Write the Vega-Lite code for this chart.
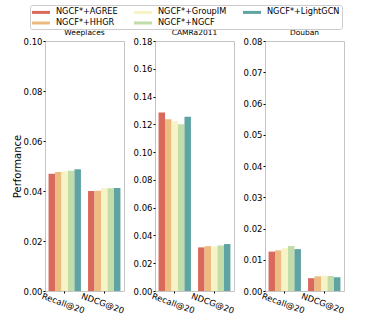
{
  "$schema": "https://vega.github.io/schema/vega-lite/v6.json",
  "padding": {"left": 11, "top": 4, "right": 5, "bottom": 5},
  "datasets": {
    "d": [
      {"dataset": "Weeplaces", "metric": "Recall@20", "method": "NGCF*+AGREE", "value": 0.0469},
      {"dataset": "Weeplaces", "metric": "Recall@20", "method": "NGCF*+HHGR", "value": 0.0476},
      {"dataset": "Weeplaces", "metric": "Recall@20", "method": "NGCF*+GroupIM", "value": 0.0479},
      {"dataset": "Weeplaces", "metric": "Recall@20", "method": "NGCF*+NGCF", "value": 0.0481},
      {"dataset": "Weeplaces", "metric": "Recall@20", "method": "NGCF*+LightGCN", "value": 0.0487},
      {"dataset": "Weeplaces", "metric": "NDCG@20", "method": "NGCF*+AGREE", "value": 0.0400},
      {"dataset": "Weeplaces", "metric": "NDCG@20", "method": "NGCF*+HHGR", "value": 0.0401},
      {"dataset": "Weeplaces", "metric": "NDCG@20", "method": "NGCF*+GroupIM", "value": 0.0411},
      {"dataset": "Weeplaces", "metric": "NDCG@20", "method": "NGCF*+NGCF", "value": 0.0411},
      {"dataset": "Weeplaces", "metric": "NDCG@20", "method": "NGCF*+LightGCN", "value": 0.0412},
      {"dataset": "CAMRa2011", "metric": "Recall@20", "method": "NGCF*+AGREE", "value": 0.1286},
      {"dataset": "CAMRa2011", "metric": "Recall@20", "method": "NGCF*+HHGR", "value": 0.1236},
      {"dataset": "CAMRa2011", "metric": "Recall@20", "method": "NGCF*+GroupIM", "value": 0.1222},
      {"dataset": "CAMRa2011", "metric": "Recall@20", "method": "NGCF*+NGCF", "value": 0.1200},
      {"dataset": "CAMRa2011", "metric": "Recall@20", "method": "NGCF*+LightGCN", "value": 0.1255},
      {"dataset": "CAMRa2011", "metric": "NDCG@20", "method": "NGCF*+AGREE", "value": 0.0314},
      {"dataset": "CAMRa2011", "metric": "NDCG@20", "method": "NGCF*+HHGR", "value": 0.0323},
      {"dataset": "CAMRa2011", "metric": "NDCG@20", "method": "NGCF*+GroupIM", "value": 0.0321},
      {"dataset": "CAMRa2011", "metric": "NDCG@20", "method": "NGCF*+NGCF", "value": 0.0328},
      {"dataset": "CAMRa2011", "metric": "NDCG@20", "method": "NGCF*+LightGCN", "value": 0.0338},
      {"dataset": "Douban", "metric": "Recall@20", "method": "NGCF*+AGREE", "value": 0.0126},
      {"dataset": "Douban", "metric": "Recall@20", "method": "NGCF*+HHGR", "value": 0.0130},
      {"dataset": "Douban", "metric": "Recall@20", "method": "NGCF*+GroupIM", "value": 0.0137},
      {"dataset": "Douban", "metric": "Recall@20", "method": "NGCF*+NGCF", "value": 0.0144},
      {"dataset": "Douban", "metric": "Recall@20", "method": "NGCF*+LightGCN", "value": 0.0134},
      {"dataset": "Douban", "metric": "NDCG@20", "method": "NGCF*+AGREE", "value": 0.0041},
      {"dataset": "Douban", "metric": "NDCG@20", "method": "NGCF*+HHGR", "value": 0.0047},
      {"dataset": "Douban", "metric": "NDCG@20", "method": "NGCF*+GroupIM", "value": 0.0049},
      {"dataset": "Douban", "metric": "NDCG@20", "method": "NGCF*+NGCF", "value": 0.0048},
      {"dataset": "Douban", "metric": "NDCG@20", "method": "NGCF*+LightGCN", "value": 0.0044}
    ]
  },
  "config": {
    "font": "DejaVu Sans",
    "view": {"stroke": "#c4c4c4", "strokeWidth": 1},
    "axis": {"grid": false, "domain": false, "labelFont": "DejaVu Sans", "labelFontSize": 8.5, "labelColor": "#000000", "tickColor": "#000000", "tickSize": 2, "labelPadding": 1},
    "title": {"font": "DejaVu Sans", "fontSize": 7.5, "fontWeight": "normal", "color": "#000000", "offset": 1, "baseline": "bottom"},
    "legend": {"orient": "none", "legendX": -15, "legendY": -36, "columns": 3, "direction": "horizontal", "gridAlign": "each", "title": null, "symbolType": "M-1,-0.3H2.6V0.3H-1Z", "symbolSize": 100, "symbolStrokeWidth": 0, "symbolOpacity": 1, "labelFont": "DejaVu Sans", "labelFontSize": 8.2, "labelColor": "#000000", "labelOffset": 14, "columnPadding": 16, "rowPadding": 2, "padding": 2, "strokeColor": "#cccccc", "fillColor": null, "cornerRadius": 2},
    "concat": {"spacing": 6}
  },
  "hconcat": [
    {
      "width": 79, "height": 250,
      "title": "Weeplaces",
      "data": {"name": "d"},
      "transform": [{"filter": "datum.dataset === 'Weeplaces'"}],
      "mark": {"type": "bar"},
      "encoding": {
        "x": {"field": "metric", "type": "nominal", "sort": ["Recall@20", "NDCG@20"], "scale": {"paddingInner": 0.18, "paddingOuter": 0.09}, "axis": {"title": null, "labelAngle": 20, "labelAlign": "center", "labelBaseline": "top", "labelPadding": 6}},
        "xOffset": {"field": "method", "type": "nominal", "sort": ["NGCF*+AGREE", "NGCF*+HHGR", "NGCF*+GroupIM", "NGCF*+NGCF", "NGCF*+LightGCN"], "scale": {"paddingInner": 0, "paddingOuter": 0}},
        "y": {"field": "value", "type": "quantitative", "scale": {"domain": [0, 0.1], "nice": false}, "axis": {"title": "Performance", "titleFontSize": 10, "titleFontWeight": "normal", "titleColor": "#000000", "titlePadding": 1, "values": [0, 0.02, 0.04, 0.06, 0.08, 0.1], "format": ".2f"}},
        "color": {"field": "method", "type": "nominal",
          "scale": {"domain": ["NGCF*+AGREE", "NGCF*+GroupIM", "NGCF*+LightGCN", "NGCF*+HHGR", "NGCF*+NGCF"], "range": ["#d9695a", "#f6f4c6", "#5fa3a2", "#edbb80", "#c2dcaa"]}}
      }
    },
    {
      "width": 79, "height": 250,
      "title": "CAMRa2011",
      "data": {"name": "d"},
      "transform": [{"filter": "datum.dataset === 'CAMRa2011'"}],
      "mark": {"type": "bar"},
      "encoding": {
        "x": {"field": "metric", "type": "nominal", "sort": ["Recall@20", "NDCG@20"], "scale": {"paddingInner": 0.18, "paddingOuter": 0.09}, "axis": {"title": null, "labelAngle": 20, "labelAlign": "center", "labelBaseline": "top", "labelPadding": 6}},
        "xOffset": {"field": "method", "type": "nominal", "sort": ["NGCF*+AGREE", "NGCF*+HHGR", "NGCF*+GroupIM", "NGCF*+NGCF", "NGCF*+LightGCN"], "scale": {"paddingInner": 0, "paddingOuter": 0}},
        "y": {"field": "value", "type": "quantitative", "scale": {"domain": [0, 0.18], "nice": false}, "axis": {"title": null, "values": [0, 0.02, 0.04, 0.06, 0.08, 0.1, 0.12, 0.14, 0.16, 0.18], "format": ".2f"}},
        "color": {"field": "method", "type": "nominal",
          "scale": {"domain": ["NGCF*+AGREE", "NGCF*+GroupIM", "NGCF*+LightGCN", "NGCF*+HHGR", "NGCF*+NGCF"], "range": ["#d9695a", "#f6f4c6", "#5fa3a2", "#edbb80", "#c2dcaa"]}}
      }
    },
    {
      "width": 79, "height": 250,
      "title": "Douban",
      "data": {"name": "d"},
      "transform": [{"filter": "datum.dataset === 'Douban'"}],
      "mark": {"type": "bar"},
      "encoding": {
        "x": {"field": "metric", "type": "nominal", "sort": ["Recall@20", "NDCG@20"], "scale": {"paddingInner": 0.18, "paddingOuter": 0.09}, "axis": {"title": null, "labelAngle": 20, "labelAlign": "center", "labelBaseline": "top", "labelPadding": 6}},
        "xOffset": {"field": "method", "type": "nominal", "sort": ["NGCF*+AGREE", "NGCF*+HHGR", "NGCF*+GroupIM", "NGCF*+NGCF", "NGCF*+LightGCN"], "scale": {"paddingInner": 0, "paddingOuter": 0}},
        "y": {"field": "value", "type": "quantitative", "scale": {"domain": [0, 0.08], "nice": false}, "axis": {"title": null, "values": [0, 0.01, 0.02, 0.03, 0.04, 0.05, 0.06, 0.07, 0.08], "format": ".2f"}},
        "color": {"field": "method", "type": "nominal",
          "scale": {"domain": ["NGCF*+AGREE", "NGCF*+GroupIM", "NGCF*+LightGCN", "NGCF*+HHGR", "NGCF*+NGCF"], "range": ["#d9695a", "#f6f4c6", "#5fa3a2", "#edbb80", "#c2dcaa"]}}
      }
    }
  ]
}
